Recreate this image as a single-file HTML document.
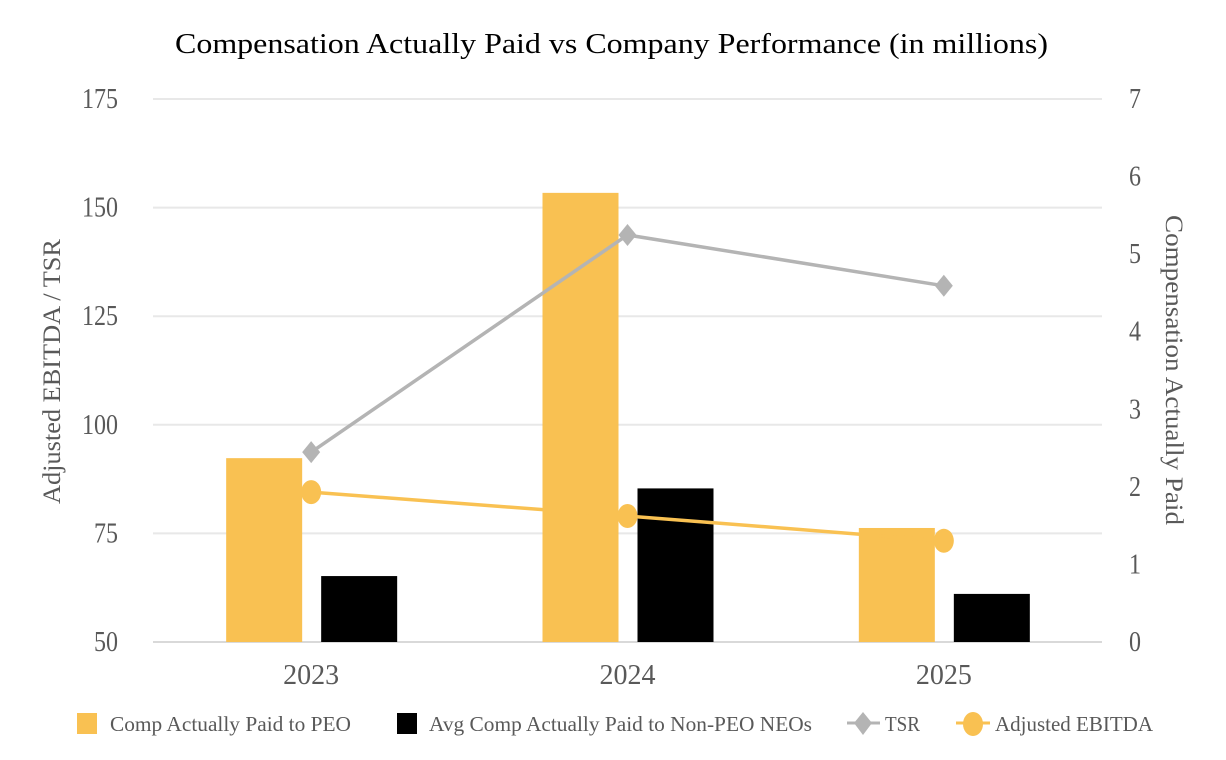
<!DOCTYPE html>
<html><head><meta charset="utf-8">
<style>
body{margin:0;background:#fff;}
svg{display:block;font-family:"Liberation Serif",serif;}
</style></head>
<body>
<svg id="chart" width="1226" height="760">
<text x="175" y="53" font-size="28" fill="#000" textLength="873" lengthAdjust="spacingAndGlyphs">Compensation Actually Paid vs Company Performance (in millions)</text>
<g id="grid"></g><g id="bars"></g><g id="lines"></g><g id="axes"></g>
<text transform="translate(60,372) rotate(-90)" x="-132" font-size="25" fill="#595959" textLength="265" lengthAdjust="spacingAndGlyphs">Adjusted EBITDA / TSR</text>
<text transform="translate(1166,370) rotate(90)" x="-155" font-size="25" fill="#595959" textLength="310" lengthAdjust="spacingAndGlyphs">Compensation Actually Paid</text>
<g font-size="21" fill="#595959">
<g><rect x="77" y="713" width="20" height="21" fill="#F9C152"/><text x="110" y="731" textLength="241" lengthAdjust="spacingAndGlyphs">Comp Actually Paid to PEO</text></g>
<g><rect x="397" y="713" width="20" height="21" fill="#000"/><text x="429" y="731" textLength="383" lengthAdjust="spacingAndGlyphs">Avg Comp Actually Paid to Non-PEO NEOs</text></g>
<g><line x1="847" y1="723" x2="880" y2="723" stroke="#B4B4B4" stroke-width="3"/><path d="M863 712 L872 723 L863 735 L854 723Z" fill="#B4B4B4"/><text x="885" y="731" textLength="35" lengthAdjust="spacingAndGlyphs">TSR</text></g>
<g><line x1="956" y1="723" x2="990" y2="723" stroke="#F9C152" stroke-width="3"/><ellipse cx="973" cy="724" rx="10" ry="12" fill="#F9C152"/><text x="995" y="731" textLength="158" lengthAdjust="spacingAndGlyphs">Adjusted EBITDA</text></g>
</g>
</svg>
<script>
const categories=["2023","2024","2025"];
const peo=[2.37,5.79,1.47];
const nonPeo=[0.85,1.98,0.62];
const tsr=[93.7,143.7,132.0];
const ebitda=[84.5,79.0,73.3];
const leftTicks=[50,75,100,125,150,175];
const rightTicks=[0,1,2,3,4,5,6,7];
const NS="http://www.w3.org/2000/svg";
const X0=153,X1=1102,Y0=642,Y1=99;
const band=(X1-X0)/categories.length;
const xc=i=>X0+band*(i+0.5);
const yL=v=>Y0-(v-50)/125*(Y0-Y1);
const yR=v=>Y0-v/7*(Y0-Y1);
function mk(tag,attrs,parent){const e=document.createElementNS(NS,tag);for(const k in attrs)e.setAttribute(k,attrs[k]);document.getElementById(parent).appendChild(e);return e;}
leftTicks.forEach(t=>{
 const l=mk('line',{x1:X0,x2:X1,y1:yL(t),y2:yL(t),stroke:t===50?'#D9D9D9':'#E8E8E8','stroke-width':2},'grid');
 
 
 const s=String(t);
 const tx=mk('text',{x:118-s.length*12,y:yL(t)+9,'font-size':28,fill:'#595959',textLength:s.length*12,lengthAdjust:'spacingAndGlyphs'},'axes');
 tx.textContent=s;
 
 
});
rightTicks.forEach(t=>{
 const tx=mk('text',{x:1129,y:yR(t)+9,'font-size':28,fill:'#595959',textLength:12,lengthAdjust:'spacingAndGlyphs'},'axes');
 tx.textContent=t;
 
 
});
categories.forEach((c,i)=>{
 const tx=mk('text',{x:xc(i)-28,y:684,'font-size':28,fill:'#595959',textLength:56,lengthAdjust:'spacingAndGlyphs'},'axes');
 tx.textContent=c;
 
 
 const b1=mk('rect',{x:xc(i)-85,width:76,y:yR(peo[i]),height:Y0-yR(peo[i]),fill:'#F9C152'},'bars');
 
 
 const b2=mk('rect',{x:xc(i)+10,width:76,y:yR(nonPeo[i]),height:Y0-yR(nonPeo[i]),fill:'#000'},'bars');
 
 
});
const tl=mk('polyline',{points:tsr.map((v,i)=>xc(i)+','+yL(v)).join(' '),fill:'none',stroke:'#B4B4B4','stroke-width':3.5},'lines');


const el=mk('polyline',{points:ebitda.map((v,i)=>xc(i)+','+yL(v)).join(' '),fill:'none',stroke:'#F9C152','stroke-width':3.5},'lines');


tsr.forEach((v,i)=>{const x=xc(i),y=yL(v);
 const p=mk('path',{d:`M${x} ${y-11} L${x+9} ${y} L${x} ${y+11} L${x-9} ${y}Z`,fill:'#B4B4B4'},'lines');
 
 
});
ebitda.forEach((v,i)=>{
 const p=mk('ellipse',{cx:xc(i),cy:yL(v),rx:10,ry:12,fill:'#F9C152'},'lines');
 
 
});
</script>
</body></html>
